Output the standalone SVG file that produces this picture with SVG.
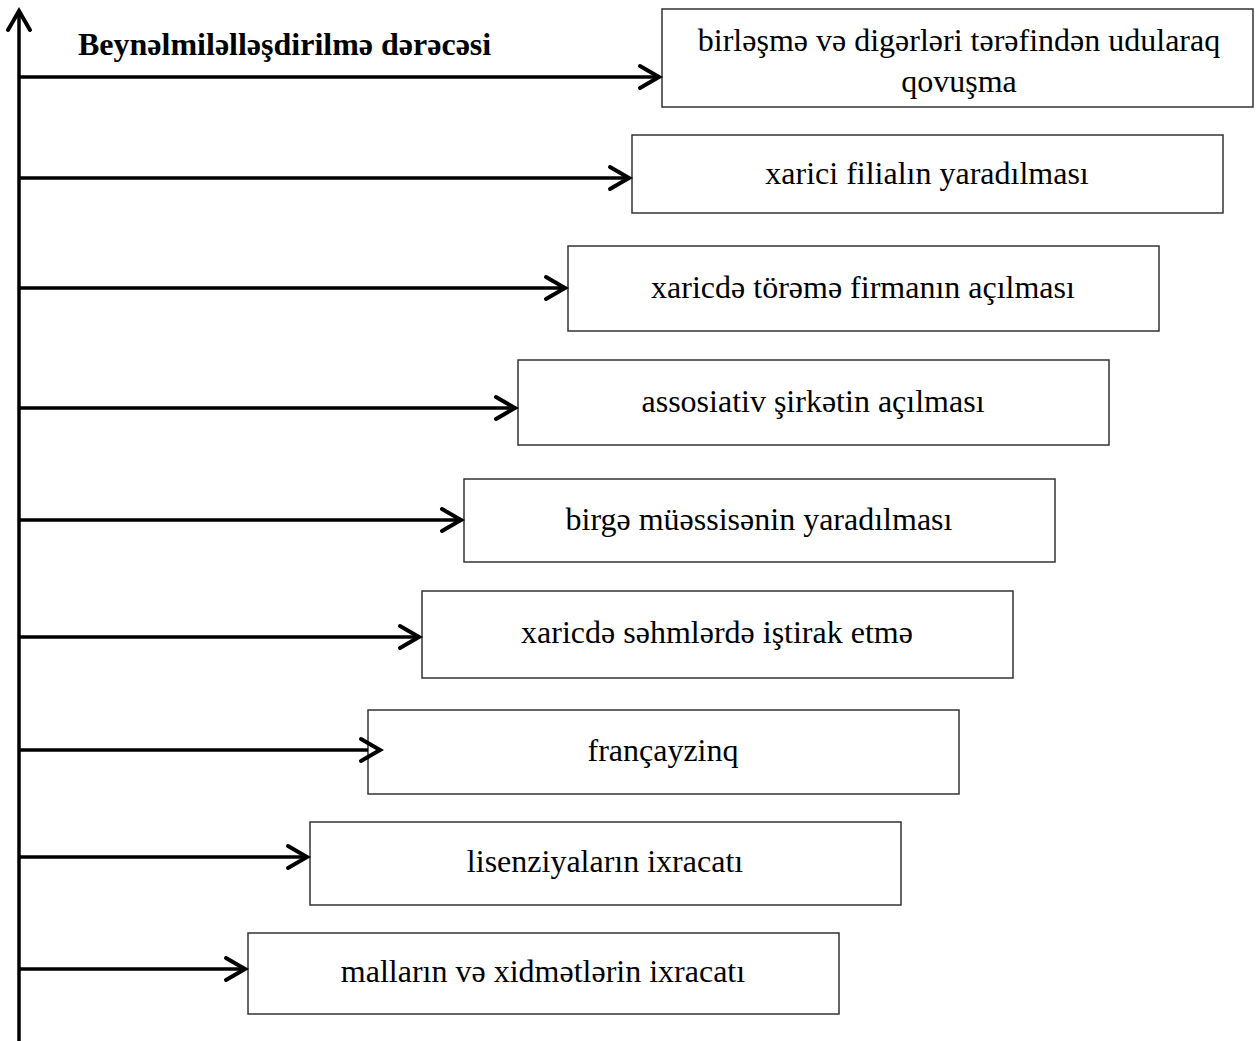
<svg xmlns="http://www.w3.org/2000/svg" width="1258" height="1041" viewBox="0 0 1258 1041">
<style>
.box{fill:#fff;stroke:#333;stroke-width:1.5}
.lbl{font-family:"Liberation Serif","Times New Roman",serif;font-size:32px;fill:#000;text-anchor:middle}
.ttl{font-family:"Liberation Serif","Times New Roman",serif;font-size:32px;font-weight:bold;fill:#000}
.ln{stroke:#000;stroke-width:3.5;fill:none}
.hd{stroke:#000;stroke-width:4;fill:none;stroke-linecap:round;stroke-linejoin:miter}
</style>
<rect width="1258" height="1041" fill="#fff"/>
<text id="title" class="ttl" x="78" y="55">Beynəlmiləlləşdirilmə dərəcəsi</text>
<g id="n1"><rect class="box" x="662" y="9" width="591" height="98"/><text class="lbl" x="959" y="51">birləşmə və digərləri tərəfindən udularaq</text><text class="lbl" x="959" y="92">qovuşma</text></g>
<g id="n2"><rect class="box" x="632" y="135" width="591" height="78"/><text class="lbl" x="927" y="184">xarici filialın yaradılması</text></g>
<g id="n3"><rect class="box" x="568" y="246" width="591" height="85"/><text class="lbl" x="863" y="298">xaricdə törəmə firmanın açılması</text></g>
<g id="n4"><rect class="box" x="518" y="360" width="591" height="85"/><text class="lbl" x="813" y="412">assosiativ şirkətin açılması</text></g>
<g id="n5"><rect class="box" x="464" y="479" width="591" height="83"/><text class="lbl" x="759" y="530">birgə müəssisənin yaradılması</text></g>
<g id="n6"><rect class="box" x="422" y="591" width="591" height="87"/><text class="lbl" x="717" y="643">xaricdə səhmlərdə iştirak etmə</text></g>
<g id="n7"><rect class="box" x="368" y="710" width="591" height="84"/><text class="lbl" x="663" y="761">françayzinq</text></g>
<g id="n8"><rect class="box" x="310" y="822" width="591" height="83"/><text class="lbl" x="605" y="872">lisenziyaların ixracatı</text></g>
<g id="n9"><rect class="box" x="248" y="933" width="591" height="81"/><text class="lbl" x="543" y="982">malların və xidmətlərin ixracatı</text></g>
<g id="connectors">
<line class="ln" x1="19" y1="1041" x2="19" y2="12"/>
<polyline class="hd" points="8,30 19,11 30,30"/>
<line class="ln" x1="19" y1="77" x2="659" y2="77"/><polyline class="hd" points="640,66 659,77 640,88"/>
<line class="ln" x1="19" y1="178" x2="629" y2="178"/><polyline class="hd" points="610,167 629,178 610,189"/>
<line class="ln" x1="19" y1="288" x2="565" y2="288"/><polyline class="hd" points="546,277 565,288 546,299"/>
<line class="ln" x1="19" y1="408" x2="515" y2="408"/><polyline class="hd" points="496,397 515,408 496,419"/>
<line class="ln" x1="19" y1="520" x2="461" y2="520"/><polyline class="hd" points="442,509 461,520 442,531"/>
<line class="ln" x1="19" y1="637" x2="419" y2="637"/><polyline class="hd" points="400,626 419,637 400,648"/>
<line class="ln" x1="19" y1="750" x2="368" y2="750"/><polyline class="hd" points="361,739 380,750 361,761"/>
<line class="ln" x1="19" y1="857" x2="307" y2="857"/><polyline class="hd" points="288,846 307,857 288,868"/>
<line class="ln" x1="19" y1="969" x2="245" y2="969"/><polyline class="hd" points="226,958 245,969 226,980"/>
</g>
</svg>
